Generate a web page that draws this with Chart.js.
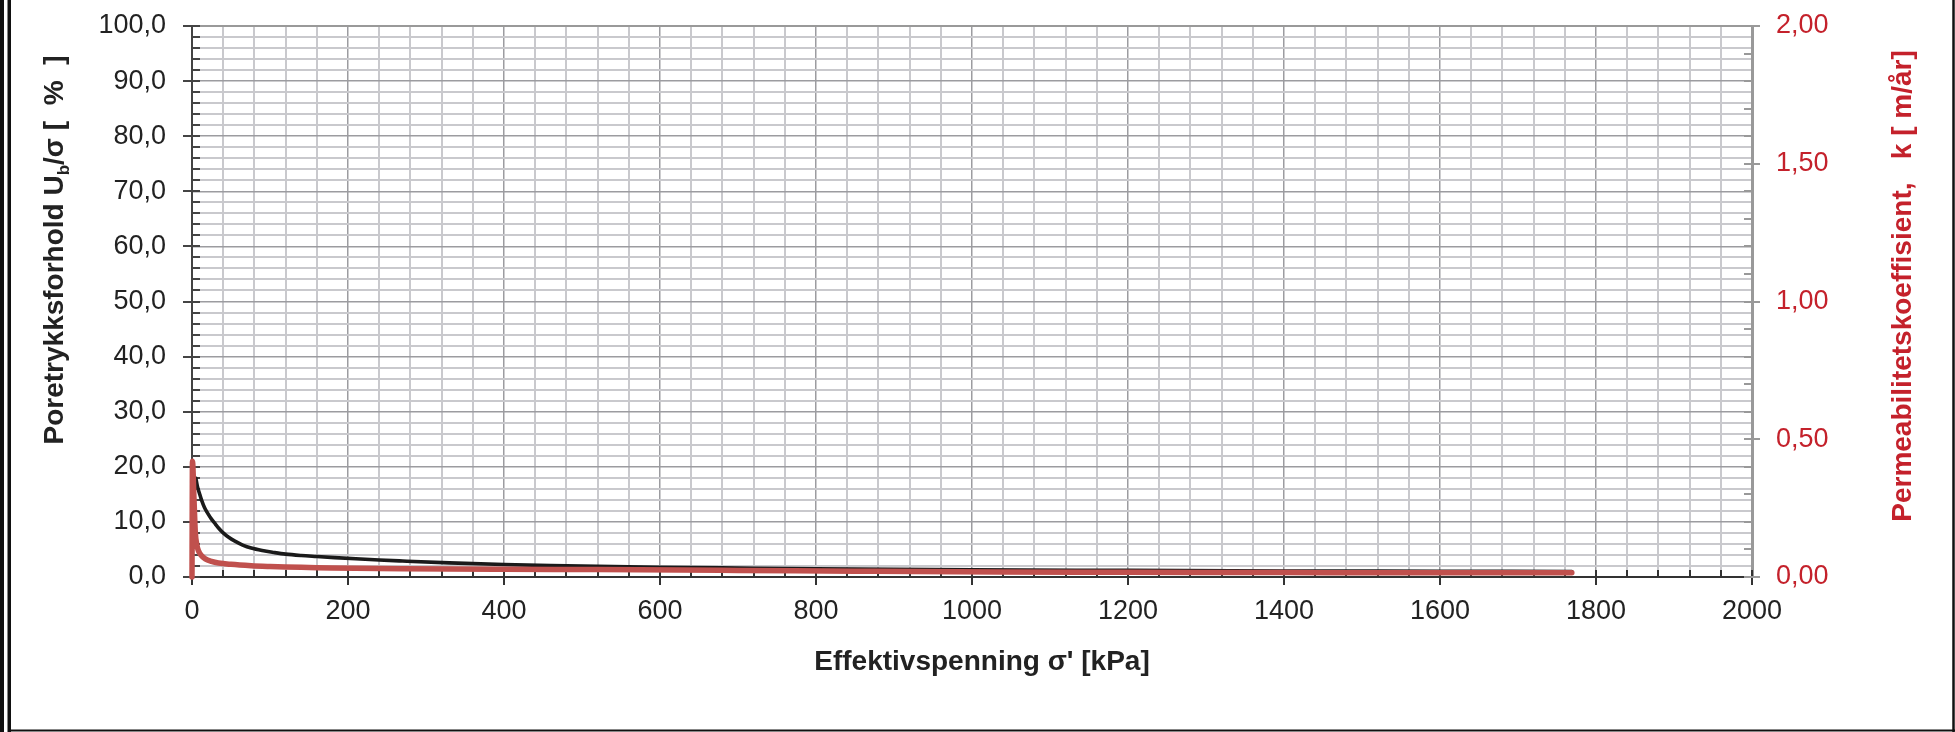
<!DOCTYPE html>
<html>
<head>
<meta charset="utf-8">
<script src="https://cdn.jsdelivr.net/npm/chart.js@4.4.1/dist/chart.umd.min.js"></script>
<style>
  html, body { margin: 0; padding: 0; background: #ffffff; overflow: hidden; }
  #wrap { position: relative; width: 1955px; height: 732px; }
  canvas { display: block; }
</style>
</head>
<body>
<div id="wrap"><canvas id="c" width="1955" height="732"></canvas></div>
<script>
// Pore pressure ratio Ub/sigma [%] against effective stress sigma' [kPa]
const sigmaUb = [5, 7, 9.5, 12.4, 16, 20, 25, 30, 34, 40, 47, 55, 65, 76, 90, 105, 120, 140, 160, 183, 210, 240, 270, 330, 400, 460, 520, 600, 700, 800, 900, 1000, 1200, 1400, 1600, 1769];
const ubRatio = [17.9, 16.4, 15.2, 13.9, 12.6, 11.6, 10.5, 9.6, 8.9, 8.0, 7.2, 6.5, 5.8, 5.25, 4.8, 4.45, 4.15, 3.9, 3.72, 3.52, 3.3, 3.08, 2.9, 2.57, 2.27, 2.07, 1.92, 1.77, 1.62, 1.48, 1.38, 1.3, 1.2, 1.1, 1.05, 1.0];

// Permeability coefficient k [m/år] against effective stress sigma' [kPa]
const sigmaK = [0, 0.6, 2.6, 4.3, 6, 8, 12, 17, 25, 34, 50, 76, 100, 120, 150, 180, 270, 400, 520, 700, 850, 1036, 1200, 1400, 1550, 1769];
const kPerm = [0, 0.42, 0.28, 0.16, 0.12, 0.097, 0.078, 0.066, 0.057, 0.051, 0.046, 0.041, 0.038, 0.036, 0.0345, 0.033, 0.030, 0.028, 0.027, 0.024, 0.021, 0.018, 0.017, 0.016, 0.015, 0.015];

// Axis ranges and tick steps
const xRange = [0, 2000], xMajor = 200, xMinor = 40;
const yRange = [0, 100], yMajor = 10, yMinor = 2;
const kRange = [0, 2], kMajor = 0.5, kMinor = 0.1;

// Axis titles
const xTitle = "Effektivspenning σ' [kPa]";
const yTitleParts = ["Poretrykksforhold U", "b", "/σ [  %  ]"];
const kTitle = "Permeabilitetskoeffisient,   k [ m/år]";

const FONT = "'Liberation Sans', Arial, sans-serif";
const RED_TEXT = '#c4212b';
const RED_LINE = '#c0504d';
const GRID_MAJOR = '#9c9ca0';
const GRID_MINOR = '#c9c9cd';

const isMultiple = (v, step) => Math.abs(v / step - Math.round(v / step)) < 1e-6;
const comma = (v, d) => v.toFixed(d).replace('.', ',');

// Fixed axis box sizes so the plot area sits at 192..1752 x 26..577
const fitVertical = width => s => { s.width = width; s.paddingTop = 0; s.paddingBottom = 0; };

// Tick marks: major ones cross the axis line, minor ones sit inside the plot
const tickMarks = {
  id: 'tickMarks',
  beforeDatasetsDraw(chart) {
    const { ctx, scales: { x, y, y1 } } = chart;
    ctx.save();
    ctx.lineCap = 'butt';
    ctx.lineWidth = 2;
    ctx.strokeStyle = '#333';
    x.ticks.forEach(t => {
      const px = Math.round(x.getPixelForValue(t.value));
      const major = isMultiple(t.value, xMajor);
      ctx.beginPath();
      ctx.moveTo(px, x.top - 7);
      ctx.lineTo(px, major ? x.top + 8 : x.top);
      ctx.stroke();
    });
    ctx.strokeStyle = '#444';
    y.ticks.forEach(t => {
      const py = Math.round(y.getPixelForValue(t.value));
      const major = isMultiple(t.value, yMajor);
      ctx.beginPath();
      ctx.moveTo(major ? y.right - 9 : y.right, py);
      ctx.lineTo(y.right + 8, py);
      ctx.stroke();
    });
    ctx.strokeStyle = '#999';
    y1.ticks.forEach(t => {
      const py = Math.round(y1.getPixelForValue(t.value));
      const major = isMultiple(t.value, kMajor);
      ctx.beginPath();
      ctx.moveTo(y1.left - 8, py);
      ctx.lineTo(major ? y1.left + 8 : y1.left, py);
      ctx.stroke();
    });
    ctx.restore();
  }
};

// Axis titles (the left one carries a subscript) and the outer frame
const titlesAndFrame = {
  id: 'titlesAndFrame',
  afterDraw(chart) {
    const { ctx } = chart;
    ctx.save();
    // x title
    ctx.fillStyle = '#222';
    ctx.font = `bold 28px ${FONT}`;
    ctx.textAlign = 'center';
    ctx.textBaseline = 'alphabetic';
    ctx.fillText(xTitle, 982, 670);

    // left title, rotated
    const mainFont = `bold 28px ${FONT}`;
    const subFont = `bold 17px ${FONT}`;
    ctx.font = mainFont;
    const w0 = ctx.measureText(yTitleParts[0]).width;
    const w2 = ctx.measureText(yTitleParts[2]).width;
    ctx.font = subFont;
    const w1 = ctx.measureText(yTitleParts[1]).width;
    const total = w0 + w1 + w2;
    ctx.save();
    ctx.translate(63, 250);
    ctx.rotate(-Math.PI / 2);
    ctx.textAlign = 'left';
    let pos = -total / 2;
    ctx.font = mainFont;
    ctx.fillText(yTitleParts[0], pos, 0);
    pos += w0;
    ctx.font = subFont;
    ctx.fillText(yTitleParts[1], pos, 6);
    pos += w1;
    ctx.font = mainFont;
    ctx.fillText(yTitleParts[2], pos, 0);
    ctx.restore();

    // right title, rotated
    ctx.save();
    ctx.translate(1911, 286);
    ctx.rotate(-Math.PI / 2);
    ctx.fillStyle = RED_TEXT;
    ctx.font = mainFont;
    ctx.textAlign = 'center';
    ctx.fillText(kTitle, 0, 0);
    ctx.restore();

    // frame
    ctx.strokeStyle = '#111';
    ctx.lineWidth = 4;
    ctx.beginPath(); ctx.moveTo(2, 0); ctx.lineTo(2, 732); ctx.stroke();
    ctx.lineWidth = 3.5;
    ctx.beginPath(); ctx.moveTo(9.25, 0); ctx.lineTo(9.25, 732); ctx.stroke();
    ctx.lineWidth = 2.5;
    ctx.beginPath(); ctx.moveTo(1953.5, 0); ctx.lineTo(1953.5, 732); ctx.stroke();
    ctx.lineWidth = 2;
    ctx.beginPath(); ctx.moveTo(9, 730.5); ctx.lineTo(1955, 730.5); ctx.stroke();
    ctx.restore();
  }
};

const lineStyle = {
  pointRadius: 0,
  fill: false,
  cubicInterpolationMode: 'monotone',
  borderCapStyle: 'round',
  borderJoinStyle: 'round',
  clip: false
};

new Chart(document.getElementById('c'), {
  type: 'line',
  data: {
    datasets: [
      Object.assign({
        label: 'k',
        yAxisID: 'y1',
        data: sigmaK.map((s, i) => ({ x: s, y: kPerm[i] })),
        borderColor: RED_LINE,
        borderWidth: 5.5,
        order: 0
      }, lineStyle),
      Object.assign({
        label: 'Ub/σ',
        yAxisID: 'y',
        data: sigmaUb.map((s, i) => ({ x: s, y: ubRatio[i] })),
        borderColor: '#1a1a1a',
        borderWidth: 3.6,
        order: 1
      }, lineStyle)
    ]
  },
  options: {
    responsive: false,
    animation: false,
    devicePixelRatio: 1,
    layout: { padding: { top: 26, left: 0, right: 0, bottom: 0 } },
    plugins: { legend: { display: false }, tooltip: { enabled: false } },
    scales: {
      x: {
        type: 'linear',
        position: 'bottom',
        min: xRange[0], max: xRange[1],
        afterFit: s => { s.height = 155; },
        ticks: {
          stepSize: xMinor, autoSkip: false, maxRotation: 0, minRotation: 0, maxTicksLimit: 1000,
          padding: 18, color: '#222', font: { family: FONT, size: 27 },
          callback: v => isMultiple(v, xMajor) ? String(v) : ''
        },
        grid: {
          drawTicks: false,
          color: c => (c.tick && isMultiple(c.tick.value, xMajor)) ? GRID_MAJOR : GRID_MINOR,
          lineWidth: c => (c.tick && isMultiple(c.tick.value, xMajor)) ? 1.5 : 2
        },
        border: { color: '#333', width: 2 }
      },
      y: {
        type: 'linear',
        position: 'left',
        min: yRange[0], max: yRange[1],
        afterFit: fitVertical(192),
        ticks: {
          stepSize: yMinor, autoSkip: false, maxTicksLimit: 1000,
          padding: 26, color: '#222', font: { family: FONT, size: 27 },
          callback: v => isMultiple(v, yMajor) ? comma(v, 1) : ''
        },
        grid: {
          drawTicks: false,
          color: c => {
            if (!c.tick) return GRID_MINOR;
            if (c.tick.value === yRange[1]) return '#999';
            return isMultiple(c.tick.value, yMajor) ? GRID_MAJOR : GRID_MINOR;
          },
          lineWidth: c => {
            if (!c.tick) return 2;
            if (c.tick.value === yRange[1]) return 2;
            return isMultiple(c.tick.value, yMajor) ? 1.5 : 2;
          }
        },
        border: { color: '#444', width: 2 }
      },
      y1: {
        type: 'linear',
        position: 'right',
        min: kRange[0], max: kRange[1],
        afterFit: fitVertical(1955 - 1752),
        ticks: {
          stepSize: kMinor, autoSkip: false, maxTicksLimit: 1000,
          padding: 24, color: RED_TEXT, font: { family: FONT, size: 27 },
          callback: v => isMultiple(v, kMajor) ? comma(v, 2) : ''
        },
        grid: { drawOnChartArea: false, drawTicks: false },
        border: { color: '#999', width: 3 }
      }
    }
  },
  plugins: [tickMarks, titlesAndFrame]
});
</script>
</body>
</html>
